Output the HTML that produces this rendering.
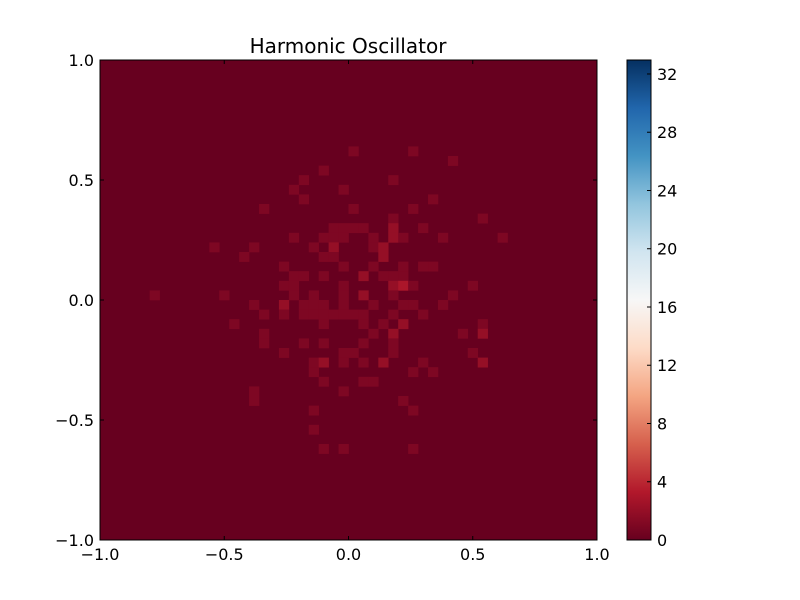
<!DOCTYPE html>
<html><head><meta charset="utf-8"><style>
body{margin:0;background:#fff;}
svg{display:block;font-family:"DejaVu Sans","Liberation Sans",sans-serif;}
</style></head><body>
<svg id="chart" width="800" height="600" viewBox="0 0 800 600" xmlns="http://www.w3.org/2000/svg">
<defs>
<linearGradient id="rdbu" x1="0" y1="1" x2="0" y2="0">
<stop offset="0" stop-color="#67001f"/><stop offset="0.1" stop-color="#b2182b"/><stop offset="0.2" stop-color="#d6604d"/><stop offset="0.3" stop-color="#f4a582"/><stop offset="0.4" stop-color="#fddbc7"/><stop offset="0.5" stop-color="#f7f7f7"/><stop offset="0.6" stop-color="#d1e5f0"/><stop offset="0.7" stop-color="#92c5de"/><stop offset="0.8" stop-color="#4393c3"/><stop offset="0.9" stop-color="#2166ac"/><stop offset="1" stop-color="#053061"/>
</linearGradient>
</defs>
<rect width="800" height="600" fill="#fff"/>
<text x="348" y="53" text-anchor="middle" font-size="20">Harmonic Oscillator</text>
<g id="plot"></g>
<g id="axes"></g>
<g id="cbar"></g>
</svg>
<script>
const nBins = 50;
const vMax = 32.96;
const xTicks = [-1.0, -0.5, 0.0, 0.5, 1.0];
const xTickLabels = ["\u22121.0", "\u22120.5", "0.0", "0.5", "1.0"];
const yTicks = [-1.0, -0.5, 0.0, 0.5, 1.0];
const yTickLabels = ["\u22121.0", "\u22120.5", "0.0", "0.5", "1.0"];
const cbarTicks = [0, 4, 8, 12, 16, 20, 24, 28, 32];
// histogram cells: row index from top, column index from left, count
const cellRow = [9,9,10,11,12,12,13,13,14,14,15,15,15,16,16,
17,17,17,17,17,17,18,18,18,18,18,18,18,18,18,
19,19,19,19,19,19,20,20,20,20,21,21,21,21,21,21,
22,22,22,22,22,22,22,23,23,23,23,23,23,23,
24,24,24,24,24,24,24,24,25,25,25,25,25,25,25,25,25,25,
26,26,26,26,26,26,26,26,26,26,26,27,27,27,27,27,27,
28,28,28,28,28,29,29,29,29,29,30,30,30,30,30,
31,31,31,31,31,31,31,32,32,32,33,33,33,34,34,35,35,36,36,38,40,40,40];
const cellCol = [25,31,35,22,20,29,19,24,20,33,16,25,31,29,38,
23,24,25,26,29,32,19,22,23,24,27,29,30,34,40,
11,15,21,23,27,28,14,22,23,28,18,24,27,30,32,33,
19,20,22,26,28,29,30,18,19,24,29,30,31,37,
5,12,19,21,24,26,29,35,15,18,20,21,22,24,27,30,31,34,
16,18,20,21,22,23,24,25,26,29,32,13,22,26,28,30,38,
16,27,29,36,38,16,20,22,26,29,18,24,25,29,37,
21,22,24,26,28,32,38,21,31,33,22,26,27,15,24,15,30,21,31,21,22,24,31];
const cellCount = [1,1,1,1,1,1,1,1,1,1,1,1,1,1,1,
1,1,1,1,2,1,1,1,1,1,1,2,1,1,1,
1,1,1,2,1,2,1,1,1,2,1,1,1,1,1,1,
1,1,1,2,1,1,1,1,1,1,2,3,1,1,
1,1,1,1,1,2,1,1,1,2,1,1,1,1,1,1,1,1,
1,1,1,1,1,1,1,1,1,1,1,1,1,1,1,2,1,
1,1,2,1,2,1,1,1,1,1,1,1,1,1,1,
1,2,1,1,2,1,2,1,1,1,1,1,1,1,1,1,1,1,1,1,1,1,1];

const PX0=100, PX1=597, PY0=60, PY1=540;
const xScale = v => PX0 + (v+1)/2*(PX1-PX0);
const yScale = v => PY1 - (v+1)/2*(PY1-PY0);
const cScale = v => PY1 - v/vMax*(PY1-PY0);
const stops = [[0,"#67001f"],[0.1,"#b2182b"],[0.2,"#d6604d"],[0.3,"#f4a582"],[0.4,"#fddbc7"],[0.5,"#f7f7f7"],[0.6,"#d1e5f0"],[0.7,"#92c5de"],[0.8,"#4393c3"],[0.9,"#2166ac"],[1,"#053061"]];
function cmap(v){
  let t=Math.max(0,Math.min(1,v/vMax));
  for(let i=0;i<stops.length-1;i++){
    if(t<=stops[i+1][0]){
      const f=(t-stops[i][0])/(stops[i+1][0]-stops[i][0]);
      const a=stops[i][1],b=stops[i+1][1];
      const c=[1,3,5].map(k=>Math.round(parseInt(a.substr(k,2),16)*(1-f)+parseInt(b.substr(k,2),16)*f));
      return "rgb("+c.join(",")+")";
    }
  }
  return stops[stops.length-1][1];
}
const NS="http://www.w3.org/2000/svg";
function mk(tag,attrs,parent){const e=document.createElementNS(NS,tag);for(const k in attrs)e.setAttribute(k,attrs[k]);parent.appendChild(e);return e;}
const plot=document.getElementById('plot');
const bg=mk('rect',{x:PX0,y:PY0,width:PX1-PX0,height:PY1-PY0,fill:cmap(0)},plot);


const bw=2/nBins;
for(let i=0;i<cellRow.length;i++){
  const x0=-1+cellCol[i]*bw, y1=1-cellRow[i]*bw;
  const r=mk('rect',{x:xScale(x0),y:yScale(y1),width:xScale(x0+bw)-xScale(x0)+0.3,height:yScale(y1-bw)-yScale(y1)+0.3,fill:cmap(cellCount[i])},plot);
  
  
}
const axes=document.getElementById('axes');
const frame=mk('rect',{x:PX0,y:PY0,width:PX1-PX0,height:PY1-PY0,fill:'none',stroke:'#000','stroke-width':1},axes);


xTicks.forEach((v,i)=>{
  const x=xScale(v);
  mk('line',{x1:x,x2:x,y1:PY1,y2:PY1-4,stroke:'#000'},axes);
  mk('line',{x1:x,x2:x,y1:PY0,y2:PY0+4,stroke:'#000'},axes);
  const t=mk('text',{x:x,y:PY1+20,'text-anchor':'middle','font-size':16},axes);
  t.textContent=xTickLabels[i];
  
  
});
yTicks.forEach((v,i)=>{
  const y=yScale(v);
  mk('line',{x1:PX0,x2:PX0+4,y1:y,y2:y,stroke:'#000'},axes);
  mk('line',{x1:PX1,x2:PX1-4,y1:y,y2:y,stroke:'#000'},axes);
  const t=mk('text',{x:PX0-6,y:y+6,'text-anchor':'end','font-size':16},axes);
  t.textContent=yTickLabels[i];
  
  
});
const cb=document.getElementById('cbar');
const CX0=627, CX1=651;
const grad=mk('rect',{x:CX0,y:PY0,width:CX1-CX0,height:PY1-PY0,fill:'url(#rdbu)',stroke:'#000','stroke-width':1},cb);


cbarTicks.forEach(v=>{
  const y=cScale(v);
  mk('line',{x1:CX1,x2:CX1-4,y1:y,y2:y,stroke:'#000'},cb);
  const t=mk('text',{x:CX1+6,y:y+6,'font-size':16},cb);
  t.textContent=String(v);
  
  
});
</script>
</body></html>
